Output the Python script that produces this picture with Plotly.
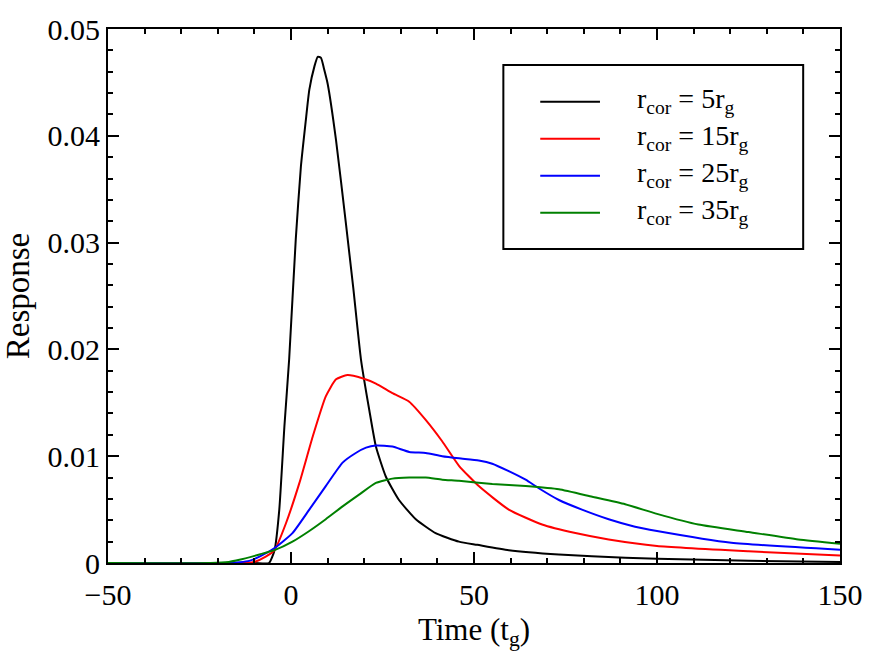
import plotly.graph_objects as go

# ---- data ----
x_5 = [-50, -10, -6, -4.5, -3.2, -1.8, -0.5, 1.3, 2.7, 4, 5, 6.4, 7.3, 8.2, 9, 10, 12.3, 15, 17, 19.1,
       21.4, 23.2, 25.9, 29.5, 34.1, 39.5, 45.9, 50.9, 59.5, 73.2, 91.3, 100, 125, 150]
y_5 = [0, 0, 0, 0.0012, 0.0050, 0.0128, 0.0191, 0.0303, 0.0371, 0.0413, 0.0443, 0.0465, 0.0474, 0.0473,
       0.0463, 0.0449, 0.0396, 0.0318, 0.0258, 0.0191, 0.0143, 0.0109, 0.0081, 0.0059, 0.0041, 0.0028,
       0.0020, 0.0017, 0.0012, 0.0008, 0.0005, 0.0004, 0.0002, 0.0001]

x_15 = [-50, -12, -10, -6.9, -4.5, -1.4, 2.3, 5.9, 9.5, 12.3, 15.4, 19.5, 23.2, 27.7, 32.3, 36.8, 41.3,
        45.9, 51.3, 59.5, 68.6, 77.7, 86.8, 100, 125, 150]
y_15 = [0, 0, 0.0001, 0.0006, 0.0012, 0.0037, 0.0075, 0.0118, 0.0156, 0.0172, 0.0176, 0.0173, 0.0168,
        0.0159, 0.0151, 0.0134, 0.0114, 0.0091, 0.0072, 0.0050, 0.0036, 0.0028, 0.0022, 0.0016, 0.0011, 0.0007]

x_25 = [-50, -18, -14, -11.4, -8.6, -4.5, 0.4, 5, 9.5, 14.1, 17.7, 20.5, 23.2, 27.7, 32.3, 36.8, 41.3,
        45.9, 51.3, 55, 59.5, 64.1, 67.7, 73.2, 79.5, 86.8, 94, 100, 120.3, 150]
y_25 = [0, 0, 0.00008, 0.0002, 0.0006, 0.0014, 0.0028, 0.0050, 0.0072, 0.0094, 0.0103, 0.0108, 0.0110,
        0.0109, 0.0104, 0.0103, 0.0100, 0.0098, 0.0096, 0.0093, 0.0086, 0.0078, 0.0070, 0.0059, 0.0050,
        0.0041, 0.0034, 0.0030, 0.0019, 0.00125]

x_35 = [-50, -22, -17, -14.1, -8.6, -4.5, 0.4, 5, 9.5, 14.1, 18.6, 23.2, 27.7, 32.3, 36.8, 41.3, 45.9,
        55, 64.1, 73.2, 82.3, 91.3, 100, 111.3, 125, 138.6, 150]
y_35 = [0, 0, 0.0001, 0.0003, 0.0008, 0.0012, 0.0020, 0.0030, 0.0041, 0.0053, 0.0064, 0.0075, 0.0079,
        0.0080, 0.0080, 0.0078, 0.0077, 0.0074, 0.0072, 0.0069, 0.0062, 0.0055, 0.0046, 0.0036, 0.0029,
        0.0022, 0.0018]

names = ["r<sub>cor</sub> = 5r<sub>g</sub>", "r<sub>cor</sub> = 15r<sub>g</sub>",
         "r<sub>cor</sub> = 25r<sub>g</sub>", "r<sub>cor</sub> = 35r<sub>g</sub>"]
colors = ["#000000", "#ff0000", "#0000ff", "#008000"]
xs = [x_5, x_15, x_25, x_35]
ys = [y_5, y_15, y_25, y_35]

FONT = "Liberation Serif, Times New Roman, serif"

fig = go.Figure()
for i in range(4):
    fig.add_trace(go.Scatter(x=xs[i], y=ys[i], mode="lines", name=names[i],
                             line=dict(color=colors[i], width=2, shape="spline", smoothing=0.5),
                             showlegend=False))

# ---- legend drawn in paper coordinates (box, sample lines, labels) ----
box = dict(x0=0.5401, x1=0.9497, y0=0.588, y1=0.9326)
fig.add_shape(type="rect", xref="paper", yref="paper", **box,
              line=dict(color="black", width=2), fillcolor="white", layer="above")
row_y = [0.8639, 0.7946, 0.7253, 0.6560]
for i in range(4):
    fig.add_shape(type="line", xref="paper", yref="paper", x0=0.5905, x1=0.6721,
                  y0=row_y[i], y1=row_y[i], line=dict(color=colors[i], width=2), layer="above")
    fig.add_annotation(xref="paper", yref="paper", x=0.7197, y=row_y[i], xanchor="left",
                       yanchor="middle", text=names[i], showarrow=False, yshift=1,
                       font=dict(family=FONT, size=28, color="black"))

axis_common = dict(
    showline=True, linecolor="black", linewidth=2, mirror="allticks",
    ticks="inside", ticklen=11, tickwidth=2, tickcolor="black",
    showgrid=False, zeroline=False,
    tickfont=dict(family=FONT, size=30, color="black"),
)

fig.update_layout(
    width=875, height=655,
    margin=dict(l=108, r=32, t=29, b=92),
    paper_bgcolor="white", plot_bgcolor="white",
    font=dict(family=FONT, color="black"),
    xaxis=dict(range=[-50, 150], dtick=50, tick0=0,
               minor=dict(ticks="inside", ticklen=5, tickwidth=2, tickcolor="black", dtick=10),
               title=dict(text="Time (t<sub>g</sub>)", font=dict(family=FONT, size=31), standoff=8),
               ticklabelstandoff=4,
               **axis_common),
    yaxis=dict(range=[0, 0.05], dtick=0.01, tick0=0,
               minor=dict(ticks="inside", ticklen=5, tickwidth=2, tickcolor="black", dtick=0.002),
               title=dict(text="Response", font=dict(family=FONT, size=33), standoff=10),
               **axis_common),
    showlegend=False,
)

fig.write_html("out.html")
